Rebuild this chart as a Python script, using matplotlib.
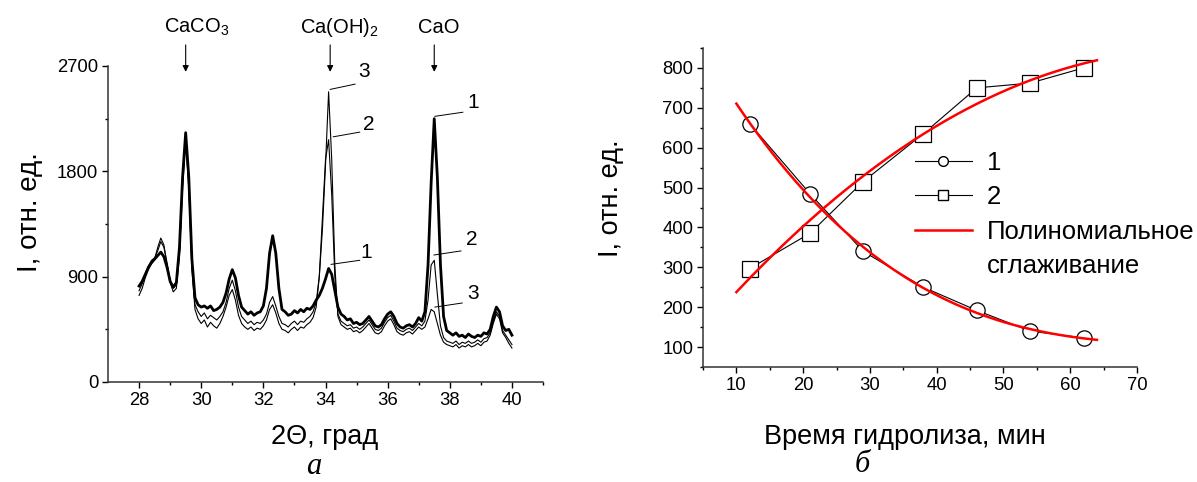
import numpy as np
import matplotlib
matplotlib.use("Agg")
import matplotlib.pyplot as plt
from matplotlib.lines import Line2D

plt.rcParams['font.family'] = ['Liberation Sans', 'DejaVu Sans']
plt.rcParams['mathtext.fontset'] = 'custom'
plt.rcParams['mathtext.rm'] = 'Liberation Sans'
plt.rcParams['mathtext.it'] = 'Liberation Sans:italic'

# --- panel a: XRD patterns, sampled every 0.1 deg from 28 to 40 ---
two_theta = np.round(np.linspace(28.0, 40.0, 121), 1)

xrd_1 = [820, 860, 920, 980, 1020, 1050, 1080, 1110, 1070, 980,
         860, 810, 850, 1150, 1750, 2130, 1750, 1050, 720, 660,
         640, 650, 630, 650, 610, 620, 640, 680, 760, 880,
         960, 890, 740, 640, 610, 580, 600, 570, 590, 600,
         650, 800, 1100, 1250, 1100, 800, 620, 600, 570, 580,
         610, 590, 620, 600, 630, 620, 650, 700, 740, 800,
         880, 970, 920, 780, 640, 580, 560, 530, 540, 500,
         510, 490, 500, 530, 560, 520, 480, 470, 490, 540,
         580, 600, 560, 500, 470, 460, 480, 490, 470, 500,
         550, 520, 600, 1000, 1700, 2250, 1750, 1000, 560, 440,
         420, 400, 420, 390, 400, 380, 410, 390, 380, 400,
         390, 420, 410, 450, 560, 640, 600, 480, 440, 450,
         400]

xrd_2 = [780, 840, 910, 990, 1040, 1060, 1120, 1200, 1150, 1020,
         870, 800, 830, 1100, 1700, 2090, 1700, 1000, 660, 600,
         560, 590, 540, 570, 550, 530, 560, 600, 680, 800,
         870, 780, 640, 560, 530, 500, 520, 490, 510, 500,
         530, 580, 680, 730, 650, 560, 500, 490, 470, 500,
         520, 490, 520, 510, 540, 560, 600, 680, 900, 1400,
         1900, 2070, 1600, 900, 580, 520, 500, 480, 490, 460,
         470, 450, 470, 500, 530, 490, 450, 440, 460, 510,
         550, 570, 520, 460, 440, 430, 450, 460, 440, 470,
         500, 480, 520, 700, 1000, 1040, 750, 480, 380, 350,
         340, 330, 350, 320, 340, 330, 350, 330, 340, 360,
         340, 370, 380, 420, 520, 600, 560, 440, 400, 360,
         320]

xrd_3 = [740, 800, 890, 960, 1010, 1050, 1150, 1230, 1170, 1000,
         850, 770, 800, 1080, 1650, 2060, 1650, 960, 620, 540,
         500, 530, 470, 510, 480, 460, 500, 560, 640, 740,
         790, 700, 570, 500, 470, 450, 470, 440, 460, 450,
         480, 530, 620, 660, 590, 500, 450, 440, 420, 450,
         470, 440, 470, 460, 490, 510, 550, 640, 900, 1300,
         1850, 2480, 1900, 1000, 560, 490, 470, 450, 460, 430,
         440, 420, 440, 470, 500, 460, 420, 410, 430, 480,
         520, 540, 490, 430, 410, 400, 420, 430, 410, 440,
         470, 450, 470, 540, 620, 600, 500, 400, 340, 320,
         310, 300, 320, 290, 310, 300, 320, 300, 310, 330,
         310, 340, 350, 400, 500, 580, 540, 420, 380, 330,
         290]

phase_names = ["CaCO$_3$", "Ca(OH)$_2$", "CaO"]
phase_pos = [29.5, 34.15, 37.5]
phase_text_x = [29.85, 34.45, 37.65]

# curve number labels: (text, line start x, line start y, line end x, line end y, text x, text y)
curve_labels = [
    ("3", 34.15, 2500, 34.95, 2545, 35.25, 2650),
    ("2", 34.25, 2095, 35.10, 2135, 35.40, 2200),
    ("1", 34.18, 1005, 35.10, 1040, 35.30, 1110),
    ("1", 37.52, 2270, 38.42, 2305, 38.75, 2385),
    ("2", 37.49, 1085, 38.36, 1120, 38.72, 1215),
    ("3", 37.52, 640, 38.40, 675, 38.75, 760),
]

# --- panel b: intensity vs hydrolysis time ---
time_min = [12, 21, 29, 38, 46, 54, 62]
series_1 = [660, 485, 340, 250, 192, 140, 123]
series_2 = [297, 385, 515, 635, 750, 762, 800]

fig = plt.figure(figsize=(11.97, 4.82), dpi=100)
W, H = 1197, 482

def px_axes(x0, y0, x1, y1):
    return fig.add_axes([x0 / W, 1 - y1 / H, (x1 - x0) / W, (y1 - y0) / H])

ax1 = px_axes(108, 66, 543, 382)
ax2 = px_axes(703, 48, 1137, 367)

for ax in (ax1, ax2):
    for s in ("top", "right"):
        ax.spines[s].set_visible(False)
    for s in ("left", "bottom"):
        ax.spines[s].set_linewidth(1.1)
        ax.spines[s].set_color("#333333")
    ax.tick_params(which="major", direction="out", length=4, width=1, labelsize=13.3, pad=3)
    ax.tick_params(which="minor", direction="out", length=2.5, width=1)

# panel a
ax1.plot(two_theta, xrd_3, color="black", lw=0.8)
ax1.plot(two_theta, xrd_2, color="black", lw=0.8)
ax1.plot(two_theta, xrd_1, color="black", lw=2.0)
ax1.set_xlim(27, 41)
ax1.set_ylim(0, 2700)
ax1.set_xticks([28, 30, 32, 34, 36, 38, 40])
ax1.set_xticks([29, 31, 33, 35, 37, 39, 41], minor=True)
ax1.set_yticks([0, 900, 1800, 2700])
ax1.set_yticks([450, 1350, 2250], minor=True)

for name, xp, xt in zip(phase_names, phase_pos, phase_text_x):
    ax1.annotate("", xy=(xp, 2650), xytext=(xp, 2880),
                 arrowprops=dict(arrowstyle="-|>", color="black", lw=0.8,
                                 mutation_scale=9, shrinkA=0, shrinkB=0),
                 annotation_clip=False)
    ax1.text(xt, 3030, name, ha="center", va="center", fontsize=14.5, clip_on=False)

for txt, x0, y0, x1, y1, xt, yt in curve_labels:
    ax1.plot([x0, x1], [y0, y1], color="black", lw=0.7)
    ax1.text(xt, yt, txt, ha="center", va="center", fontsize=15)

fig.text(30 / W, 1 - 212 / H, "I, отн. ед.", rotation=90, ha="center", va="center", fontsize=20)
fig.text(325 / W, 1 - 437 / H, "2Θ, град", ha="center", va="center", fontsize=19.5)
fig.text(314 / W, 1 - 467 / H, "а", ha="center", va="center", fontsize=22,
         family="Liberation Serif", style="italic")

# panel b
fit_x = np.linspace(10, 64, 200)
fit_1 = np.polyval(np.polyfit(time_min, series_1, 3), fit_x)
fit_2 = np.polyval(np.polyfit(time_min, series_2, 2), fit_x)

ax2.plot(time_min, series_1, color="black", lw=0.8, marker="o", ms=11,
         mfc="white", mec="black", mew=0.9)
ax2.plot(time_min, series_2, color="black", lw=0.8, marker="s", ms=11,
         mfc="white", mec="black", mew=0.9)
ax2.plot(fit_x, fit_1, color="#ff0000", lw=1.8)
ax2.plot(fit_x, fit_2, color="#ff0000", lw=1.8)
ax2.set_xlim(5, 70)
ax2.set_ylim(50, 850)
ax2.set_xticks(range(10, 71, 10))
ax2.set_xticks(range(5, 71, 10), minor=True)
ax2.set_yticks(range(100, 801, 100))
ax2.set_yticks(range(50, 851, 100), minor=True)

handles = [
    Line2D([], [], color="black", lw=0.8, marker="o", ms=7, mfc="white", mec="black"),
    Line2D([], [], color="black", lw=0.8, marker="s", ms=7, mfc="white", mec="black"),
    Line2D([], [], color="#ff0000", lw=1.8),
]
leg = ax2.legend(handles, ["1", "2", "Полиномиальное"], frameon=False, fontsize=18.5,
                 loc="upper left", bbox_to_anchor=(915 / W, 1 - 151 / H),
                 bbox_transform=fig.transFigure, handlelength=2.2, handletextpad=0.6,
                 labelspacing=0.4, borderpad=0, borderaxespad=0)
fig.canvas.draw()
tb = leg.get_texts()[2].get_window_extent()
fig.text(tb.x0 / W, (tb.y0 - 10) / H, "сглаживание", ha="left", va="top", fontsize=18.5)

fig.text(611 / W, 1 - 198 / H, "I, отн. ед.", rotation=90, ha="center", va="center", fontsize=19.5)
fig.text(905 / W, 1 - 437 / H, "Время гидролиза, мин", ha="center", va="center", fontsize=19.5)
fig.text(862 / W, 1 - 465 / H, "б", ha="center", va="center", fontsize=22,
         family="Liberation Serif", style="italic")

fig.savefig("out.png", dpi=100)
